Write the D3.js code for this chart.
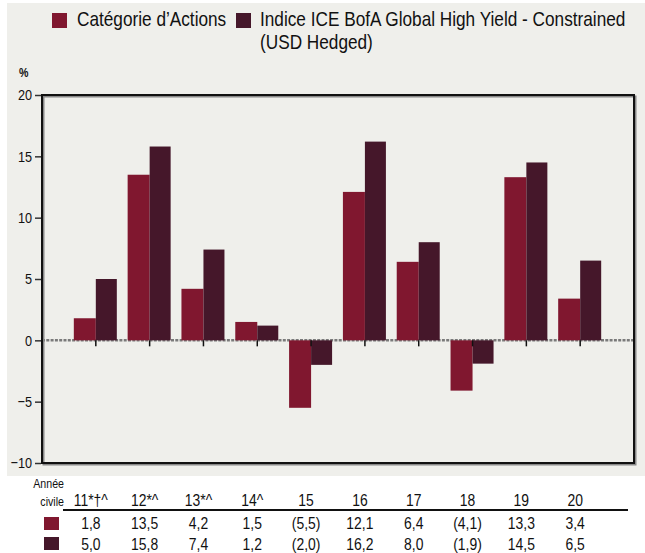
<!DOCTYPE html>
<html>
<head>
<meta charset="utf-8">
<script src="https://cdn.jsdelivr.net/npm/d3@7"></script>
<style>
  body { margin: 0; background: #fff; }
  svg text { font-family: "Liberation Sans", Arial, sans-serif; fill: #111; }
</style>
</head>
<body>
<svg id="chart"></svg>
<script>
// Data
var categories = ["11*†^", "12*^", "13*^", "14^", "15", "16", "17", "18", "19", "20"];
var fundValues = [1.8, 13.5, 4.2, 1.5, -5.5, 12.1, 6.4, -4.1, 13.3, 3.4];
var indexValues = [5.0, 15.8, 7.4, 1.2, -2.0, 16.2, 8.0, -1.9, 14.5, 6.5];
var seriesNames = ["Catégorie d’Actions", "Indice ICE BofA Global High Yield - Constrained", "(USD Hedged)"];
var yTicks = [-10, -5, 0, 5, 10, 15, 20];
var rowHeader = ["Année", "civile"];

var width = 645, height = 553;
var plotLeft = 42, plotRight = 634, plotTop = 95, plotBottom = 463;
var colors = ["#80172f", "#45172a"];
var barW = 22;
var narrow = 0.82; // condensed look, like Arial Narrow

var svg = d3.select("#chart")
    .attr("width", width)
    .attr("height", height)

// background panel
svg.append("rect")
    .attr("x", 7).attr("y", 3)
    .attr("width", width - 7).attr("height", 473)
    .attr("fill", "#efefeb")

var x = d3.scalePoint()
    .domain(categories)
    .range([plotLeft, plotRight])
    .padding(1)

var y = d3.scaleLinear()
    .domain([-10, 20])
    .range([plotBottom, plotTop])

// Legend
var legend = svg.append("g")
legend.append("rect").attr("x", 52).attr("y", 13).attr("width", 15).attr("height", 15).attr("fill", colors[0])
legend.append("text").attr("x", 77).attr("y", 26).style("font-size", "21px").text(seriesNames[0])
legend.append("rect").attr("x", 236).attr("y", 13).attr("width", 15).attr("height", 15).attr("fill", colors[1])
legend.append("text").attr("x", 260).attr("y", 26).style("font-size", "21px").text(seriesNames[1])
legend.append("text").attr("x", 260).attr("y", 49).style("font-size", "21px").text(seriesNames[2])

svg.append("text")
    .attr("x", 19).attr("y", 77)
    .style("font-size", "13px")
    .style("font-weight", "bold")
    .text("%")

// y axis
var yAxis = d3.axisLeft(y)
    .tickValues(yTicks)
    .tickSize(6)
    .tickSizeOuter(0)
    .tickFormat(d3.format("d"))

var yG = svg.append("g")
    .attr("transform", "translate(" + (plotLeft - 1) + ",0)")
    .call(yAxis)
yG.attr("font-family", null).attr("font-size", null)
yG.select(".domain").remove()
yG.selectAll("line").attr("stroke", "#333").attr("stroke-width", 1.5)
yG.selectAll("text")
    .attr("x", -9)
    .style("font-size", "15.5px")
    .attr("fill", "#111")

// Zero line
svg.append("line")
    .attr("x1", plotLeft).attr("x2", plotRight)
    .attr("y1", y(0)).attr("y2", y(0))
    .attr("stroke", "#7a7a7a")
    .attr("stroke-width", 2.5)
    .attr("stroke-dasharray", "3,1.3")

// Bars
var groups = svg.append("g").selectAll("g")
    .data(categories)
    .join("g")

groups.append("rect")
    .attr("x", d => x(d) - barW)
    .attr("y", (d, i) => y(Math.max(0, fundValues[i])))
    .attr("width", barW)
    .attr("height", (d, i) => Math.abs(y(fundValues[i]) - y(0)))
    .attr("fill", colors[0])

groups.append("rect")
    .attr("x", d => x(d))
    .attr("y", (d, i) => y(Math.max(0, indexValues[i])))
    .attr("width", barW - 1)
    .attr("height", (d, i) => Math.abs(y(indexValues[i]) - y(0)))
    .attr("fill", colors[1])

// category ticks below zero line
groups.append("line")
    .attr("x1", d => x(d)).attr("x2", d => x(d))
    .attr("y1", y(0)).attr("y2", y(0) + 6)
    .attr("stroke", "#111")
    .attr("stroke-width", 1.5)

// Frame with shadow
svg.append("rect")
    .attr("x", plotLeft + 1.5).attr("y", plotTop + 1.5)
    .attr("width", plotRight - plotLeft).attr("height", plotBottom - plotTop)
    .attr("fill", "none")
    .attr("stroke", "#888")
    .attr("stroke-width", 2)
svg.append("rect")
    .attr("x", plotLeft).attr("y", plotTop)
    .attr("width", plotRight - plotLeft).attr("height", plotBottom - plotTop)
    .attr("fill", "none")
    .attr("stroke", "#111")
    .attr("stroke-width", 2)

// Table below
function fmt(v) {
    var s = d3.format(".1f")(Math.abs(v)).replace(".", ",");
    return v < 0 ? "(" + s + ")" : s;
}

svg.append("text").attr("x", 64).attr("y", 488).attr("text-anchor", "end")
    .style("font-size", "13px").text(rowHeader[0])
svg.append("text").attr("x", 64).attr("y", 506).attr("text-anchor", "end")
    .style("font-size", "13px").text(rowHeader[1])

svg.append("g").selectAll("text")
    .data(categories)
    .join("text")
    .attr("x", d => x(d) - 5)
    .attr("y", 506)
    .attr("text-anchor", "middle")
    .style("font-size", "17px")
    .text(d => d)

svg.append("line")
    .attr("x1", 63).attr("x2", 628)
    .attr("y1", 510).attr("y2", 510)
    .attr("stroke", "#111")
    .attr("stroke-width", 2)

var rows = [fundValues, indexValues];
rows.forEach(function(vals, r) {
    svg.append("rect")
        .attr("x", 44).attr("y", 517 + r * 20)
        .attr("width", 15).attr("height", 13)
        .attr("fill", colors[r])
    svg.append("g").selectAll("text")
        .data(vals)
        .join("text")
        .attr("x", (d, i) => x(categories[i]) - 5)
        .attr("y", 529 + r * 21)
        .attr("text-anchor", "middle")
        .style("font-size", "17px")
        .text(d => fmt(d))
})

// squeeze every text horizontally around its anchor point
svg.selectAll("text").each(function() {
    var t = d3.select(this);
    var tx = +t.attr("x") || 0, ty = +t.attr("y") || 0;
    var dy = t.attr("dy");
    t.attr("x", 0).attr("y", 0)
        .attr("transform", "translate(" + tx + "," + ty + ") scale(" + narrow + ",1)");
})
</script>
</body>
</html>
